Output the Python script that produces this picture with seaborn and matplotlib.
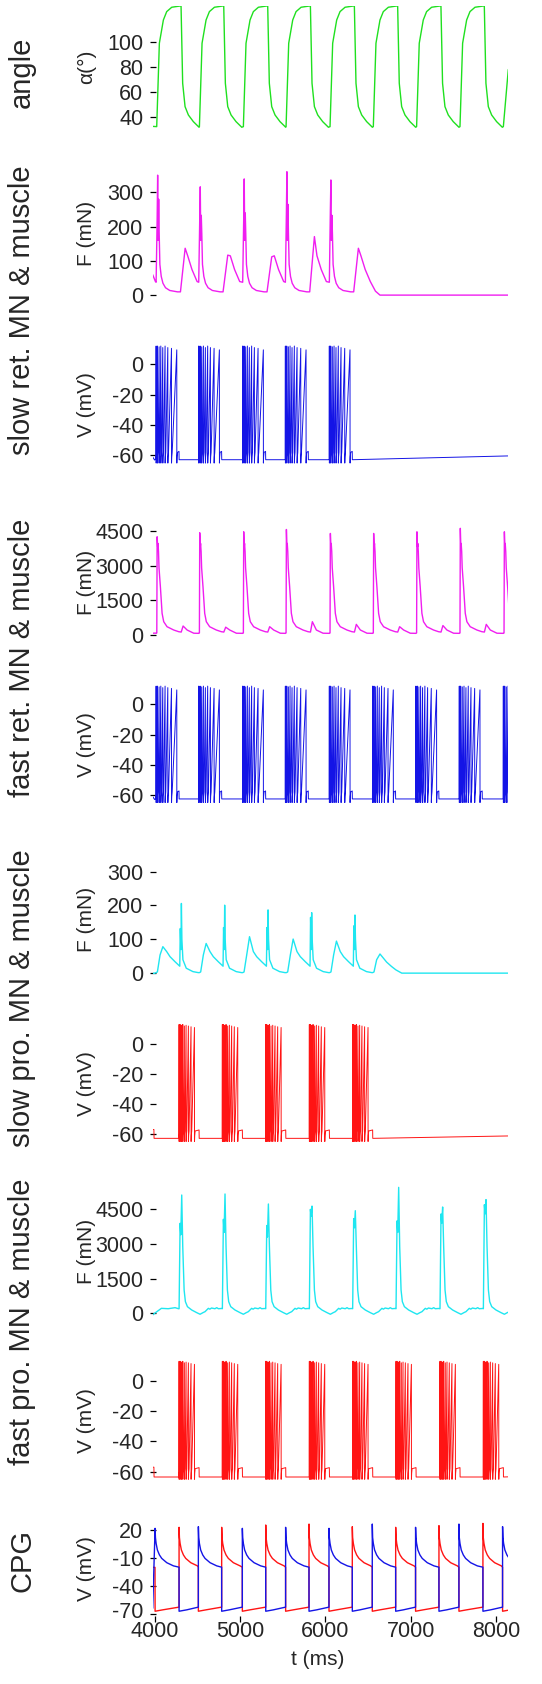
import numpy as np
import pandas as pd
import matplotlib
matplotlib.use("Agg")
import matplotlib.pyplot as plt
import matplotlib.transforms as mtransforms
import seaborn as sns

# ------------------------------------------------------------------ data
T0, T1 = 3978, 8143          # visible time window (ms)
x_ticks = [4000, 5000, 6000, 7000, 8000]

# joint angle: cycle onsets and the shape of one cycle (offset ms, degrees)
angle_onsets = [4025, 4525, 5040, 5540, 6055, 6562, 7069, 7577, 8085]
angle_dt = [0, 31, 78, 117, 176, 273, 285, 304, 332, 371, 429, 496]
angle_val = [32.3, 99, 117.6, 124.3, 127.8, 128.8, 128.8, 67, 48.3, 41.6, 36.3, 31.8]
angle_end_t, angle_end_v = [8143], [78]

# motoneuron burst onsets (ms)
ret_onsets = [4018, 4517, 5032, 5532, 6047, 6554, 7061, 7569, 8085]
pro_onsets = [4287, 4794, 5302, 5813, 6320, 6828, 7343, 7851]

# slow retractor muscle force (mN)
sr_F_dt = [0, 12, 18, 24, 30, 36, 44, 60, 80, 110, 160, 250, 285, 340, 370, 420, 480]
sr_F_val = [38, "sub", "peak", 160, "sec", 180, 90, 55, 35, 22, 14, 10, 10, "hump", 115, 75, 40]
sr_F_sub = [220, 224, 224, 243, 250]
sr_F_peak = [350, 316, 339, 360, 336]
sr_F_sec = [280, 233, 240, 265, 233]
sr_F_hump = [137, 117, 112, 171, 137]
sr_F_pre_t, sr_F_pre_v = [3978, 4010], [60, 40]
sr_F_post_t, sr_F_post_v = [6587, 6640, 8143], [12, 0.5, 0.5]

# fast retractor muscle force (mN)
fr_F_dt = [0, 8, 12, 18, 22, 28, 34, 50, 70, 89, 128, 206, 265, 294, 316, 363, 441, 500]
fr_F_val = [85, 100, "peak", 3800, 3950, 3600, 2900, 2090, 945, 585, 370, 228, 155, 140, "bump", 228, 90, 85]
fr_F_peak = [4237, 4410, 4452, 4550, 4380, 4380, 4450, 4600, 4450]
fr_F_bump = [400, 350, 370, 585, 470, 370, 420, 470, 400]
fr_F_pre_t, fr_F_pre_v = [3978, 4010], [90, 95]

# slow protractor muscle force (mN), offsets relative to protractor onset
sp_F_dt = [-270, -254, -223, -190, -145, -106, -47, 8, 14, 22, 27, 33, 45, 84, 162, 225]
sp_F_val = [2, 4, 54, "hump", 64, 49, 34, 21, "sub", 70, "peak", 100, 40, 15, 5, 2]
sp_F_hump = [78.6, 88, 108, 101, 95]
sp_F_sub = [132, 135, 135, 165, 140]
sp_F_peak = [206, 201, 187, 179, 172]
sp_F_pre_t, sp_F_pre_v = [3978, 4000], [0, 0]
sp_F_post_t = [6554, 6570, 6601, 6640, 6679, 6718, 6776, 6827, 6895, 8143]
sp_F_post_v = [2, 4, 40, 57, 45, 33, 20, 10, 0.5, 0.5]

# fast protractor muscle force (mN)
fp_F_dt = [0, 12, 20, 31, 43, 59, 74, 98, 148, 207, 246, 280, 304, 343, 360, 380, 420, 441, 460, 500]
fp_F_val = [200, "sub", "dip", "peak", 2884, 1009, 505, 288, 144, 29, -40, 30, 72, 216, 180, 230, 200, 245, 200, 210]
fp_F_sub = [3894, 4067, 3800, 4500, 4100, 4000, 4300, 4700]
fp_F_dip = [3400, 3500, 3300, 4200, 3700, 3500, 3900, 4300]
fp_F_peak = [5119, 5163, 4730, 4640, 4440, 5450, 4600, 4920]
fp_F_pre_t = [3978, 4000, 4080, 4160, 4240, 4280]
fp_F_pre_v = [-70, 0, 216, 200, 245, 200]

# motoneuron spikes inside one burst (offset ms, peak mV)
ret_spk_dt = [0, 16, 35, 55, 78, 105, 137, 180, 242]
ret_spk_pk = [12, 12, 11.5, 12, 11, 12, 11, 10.5, 9.5]
ret_burst_end = 268
pro_spk_dt = [0, 12, 27, 43, 62, 82, 109, 140, 180]
pro_spk_pk = [13, 13, 12.5, 13, 12, 12.5, 12, 11.5, 11]
pro_burst_end = 234

# CPG half-centre neurons: jump times and peak voltages (mV)
cpg_blue_up = [4006, 4513, 5028, 5535, 6043, 6550, 7057, 7565, 8076]
cpg_blue_pk = [21.8, 23.6, 21.8, 22.9, 21.8, 26.4, 22.9, 26.4, 23.6]
cpg_red_up = [4287, 4786, 5302, 5809, 6316, 6824, 7331, 7846]
cpg_red_pk = [22.9, 22.9, 25.4, 26.4, 23.6, 22.9, 24.7, 27.1]
cpg_decay_dt = [4, 12, 27, 51, 78, 137, 215]
cpg_decay_v = [12, 5.7, -1.4, -6.7, -10.4, -15, -18.4]

# ------------------------------------------------------------------ helpers
def build_cycles(onsets, dts, vals, params, pre_t, pre_v, post_t=(), post_v=(), stop=None):
    t, v = list(pre_t), list(pre_v)
    for i, on in enumerate(onsets):
        if i + 1 < len(onsets):
            nxt = onsets[i + 1] + dts[0]
        else:
            nxt = stop if stop is not None else np.inf
        for d, val in zip(dts, vals):
            tt = on + d
            if tt >= nxt:
                break
            if isinstance(val, str):
                val = params[val][i]
            t.append(tt)
            v.append(val)
    t += list(post_t)
    v += list(post_v)
    return t, v


def burst_trace(bursts, spk_dt, spk_pk, burst_end, rest, pre_t, pre_v, post_t=(), post_v=()):
    t, v = list(pre_t), list(pre_v)
    for b in bursts:
        t.append(b - 2); v.append(rest)
        for d, p in zip(spk_dt, spk_pk):
            s = b + d
            t += [s, s + 0.6, s + 3.0, s + 8.0]
            v += [p, -65.0, -61.0, -58.0]
        e = b + burst_end
        t += [e, e + 1.5]
        v += [-57.3, rest]
    t += list(post_t)
    v += list(post_v)
    return t, v


def cpg_trace(ups, peaks, downs, pre_t, pre_v):
    ev = sorted([(u, "up", p) for u, p in zip(ups, peaks)] + [(d, "down", None) for d in downs])
    t, v = list(pre_t), list(pre_v)
    for i, (tt, kind, p) in enumerate(ev):
        nxt = ev[i + 1][0] if i + 1 < len(ev) else T1 + 400
        if kind == "up":
            t.append(tt); v.append(p)
            for d, val in zip(cpg_decay_dt, cpg_decay_v):
                if tt + d < nxt:
                    t.append(tt + d); v.append(val)
            t.append(nxt - 0.5); v.append(-19.8)
        else:
            t.append(tt); v.append(-67.0)
            if tt + 90 < nxt:
                t.append(tt + 90); v.append(-65.5)
            t.append(nxt - 0.5); v.append(-62.6)
    return t, v


# ------------------------------------------------------------------ traces
angle = build_cycles(angle_onsets, angle_dt, angle_val, {}, [T0], [32.5],
                     angle_end_t, angle_end_v, stop=angle_onsets[-1] + 20)
sr_F = build_cycles(ret_onsets[:5], sr_F_dt, sr_F_val,
                    {"sub": sr_F_sub, "peak": sr_F_peak, "sec": sr_F_sec, "hump": sr_F_hump},
                    sr_F_pre_t, sr_F_pre_v, sr_F_post_t, sr_F_post_v)
sr_V = burst_trace(ret_onsets[:5], ret_spk_dt, ret_spk_pk, ret_burst_end, -62.8,
                   [T0, 4000, 4006], [-61.0, -63.0, -62.5], [T1], [-60.3])
fr_F = build_cycles(ret_onsets, fr_F_dt, fr_F_val, {"peak": fr_F_peak, "bump": fr_F_bump},
                    fr_F_pre_t, fr_F_pre_v)
fr_V = burst_trace(ret_onsets, ret_spk_dt, ret_spk_pk, ret_burst_end, -62.6,
                   [T0, 4000, 4006], [-61.0, -63.0, -62.5], [T1 + 100], [-62.6])
sp_F = build_cycles(pro_onsets[:5], sp_F_dt, sp_F_val,
                    {"hump": sp_F_hump, "sub": sp_F_sub, "peak": sp_F_peak},
                    sp_F_pre_t, sp_F_pre_v, sp_F_post_t, sp_F_post_v, stop=6554)
sp_V = burst_trace(pro_onsets[:5], pro_spk_dt, pro_spk_pk, pro_burst_end, -62.9,
                   [T0, 3992, 3994], [-57.0, -57.0, -62.9], [T1], [-61.3])
fp_F = build_cycles(pro_onsets, fp_F_dt, fp_F_val,
                    {"sub": fp_F_sub, "dip": fp_F_dip, "peak": fp_F_peak},
                    fp_F_pre_t, fp_F_pre_v)
fp_V = burst_trace(pro_onsets, pro_spk_dt, pro_spk_pk, pro_burst_end, -63.5,
                   [T0, 3992, 3994], [-57.0, -57.0, -63.5], [T1 + 100], [-63.2])
cpg_blue = cpg_trace(cpg_blue_up, cpg_blue_pk, cpg_red_up, [T0], [-63.8])
cpg_red = cpg_trace(cpg_red_up, cpg_red_pk, cpg_blue_up, [T0, 4005], [-20.0, -20.0])

# ------------------------------------------------------------------ style
sns.set_theme(style="ticks")
plt.rcParams["font.family"] = ["Liberation Sans", "DejaVu Sans"]
plt.rcParams["axes.unicode_minus"] = False

GREEN, MAGENTA, BLUE, CYAN, RED = "#1fe01f", "#f01ef0", "#1414e6", "#1ee6f0", "#ff1414"
W, H = 542, 1684
LEFT, RIGHT = 152.7, 508.3

fig = plt.figure(figsize=(W / 100, H / 100), dpi=100)

# (top px, bottom px, ylim, yticks, ylabel, [(trace, color, linewidth)])
panels = [
    (5.75, 128.25, (31, 129), [40, 60, 80, 100], "α(°)", [(angle, GREEN, 1.0)]),
    (170.0, 297.0, (-5, 365), [0, 100, 200, 300], "F (mN)", [(sr_F, MAGENTA, 1.0)]),
    (343.0, 466.1, (-67, 14), [-60, -40, -20, 0], "V (mV)", [(sr_V, BLUE, 0.7)]),
    (526.0, 638.8, (-150, 4700), [0, 1500, 3000, 4500], "F (mN)", [(fr_F, MAGENTA, 1.0)]),
    (683.1, 805.6, (-67, 14), [-60, -40, -20, 0], "V (mV)", [(fr_V, BLUE, 0.7)]),
    (864.8, 975.0, (-5, 320), [0, 100, 200, 300], "F (mN)", [(sp_F, CYAN, 1.0)]),
    (1023.0, 1144.5, (-67, 14), [-60, -40, -20, 0], "V (mV)", [(sp_V, RED, 0.7)]),
    (1186.2, 1316.8, (-150, 5500), [0, 1500, 3000, 4500], "F (mN)", [(fp_F, CYAN, 1.0)]),
    (1359.8, 1482.3, (-67, 14), [-60, -40, -20, 0], "V (mV)", [(fp_V, RED, 0.7)]),
    (1520.7, 1615.9, (-72, 30), [-70, -40, -10, 20], "V (mV)",
     [(cpg_red, RED, 1.0), (cpg_blue, BLUE, 1.0)]),
]

for i, (top, bot, ylim, yt, ylab, traces) in enumerate(panels):
    ax = fig.add_axes([LEFT / W, 1 - bot / H, (RIGHT - LEFT) / W, (bot - top) / H])
    for (tt, vv), col, lw in traces:
        sns.lineplot(x=tt, y=vv, ax=ax, color=col, lw=lw, estimator=None,
                     sort=False, errorbar=None)
    ax.set_xlim(T0, T1)
    ax.set_ylim(*ylim)
    ax.set_yticks(yt)
    ax.set_yticklabels([str(y) for y in yt])
    ax.set_ylabel(ylab, fontsize=15)
    ax.yaxis.set_label_coords(-0.159, 0.5)
    sns.despine(ax=ax, left=True, bottom=True)
    ax.tick_params(axis="y", direction="inout", length=4.5, width=0.9, pad=4.5,
                   labelsize=15.5, color="black")
    ax.patch.set_alpha(0)
    if i < len(panels) - 1:
        ax.tick_params(axis="x", bottom=False, labelbottom=False)
        ax.set_xlabel("")
    else:
        ax.set_xticks(x_ticks)
        ax.set_xticklabels([str(x) for x in x_ticks])
        ax.tick_params(axis="x", direction="out", length=4.3, width=0.9, pad=-0.5,
                       labelsize=15.5, color="black")
        ax.set_xlabel("t (ms)", fontsize=15)
        ax.xaxis.set_label_coords(0.465, -0.36)
        # lift the lowest y tick label slightly so it clears "4000"
        lab = ax.get_yticklabels()[0]
        lab.set_transform(lab.get_transform() +
                          mtransforms.ScaledTranslation(0, 4 / 100, fig.dpi_scale_trans))

# group labels on the far left
groups = [
    ("angle", 72),
    ("slow ret. MN & muscle", 310),
    ("fast ret. MN & muscle", 658),
    ("slow pro. MN & muscle", 998),
    ("fast pro. MN & muscle", 1322),
    ("CPG", 1561),
]
for txt, yc in groups:
    fig.text(22 / W, 1 - yc / H, txt, rotation=90, ha="center", va="center", fontsize=21)

fig.savefig("out.png", dpi=100)
